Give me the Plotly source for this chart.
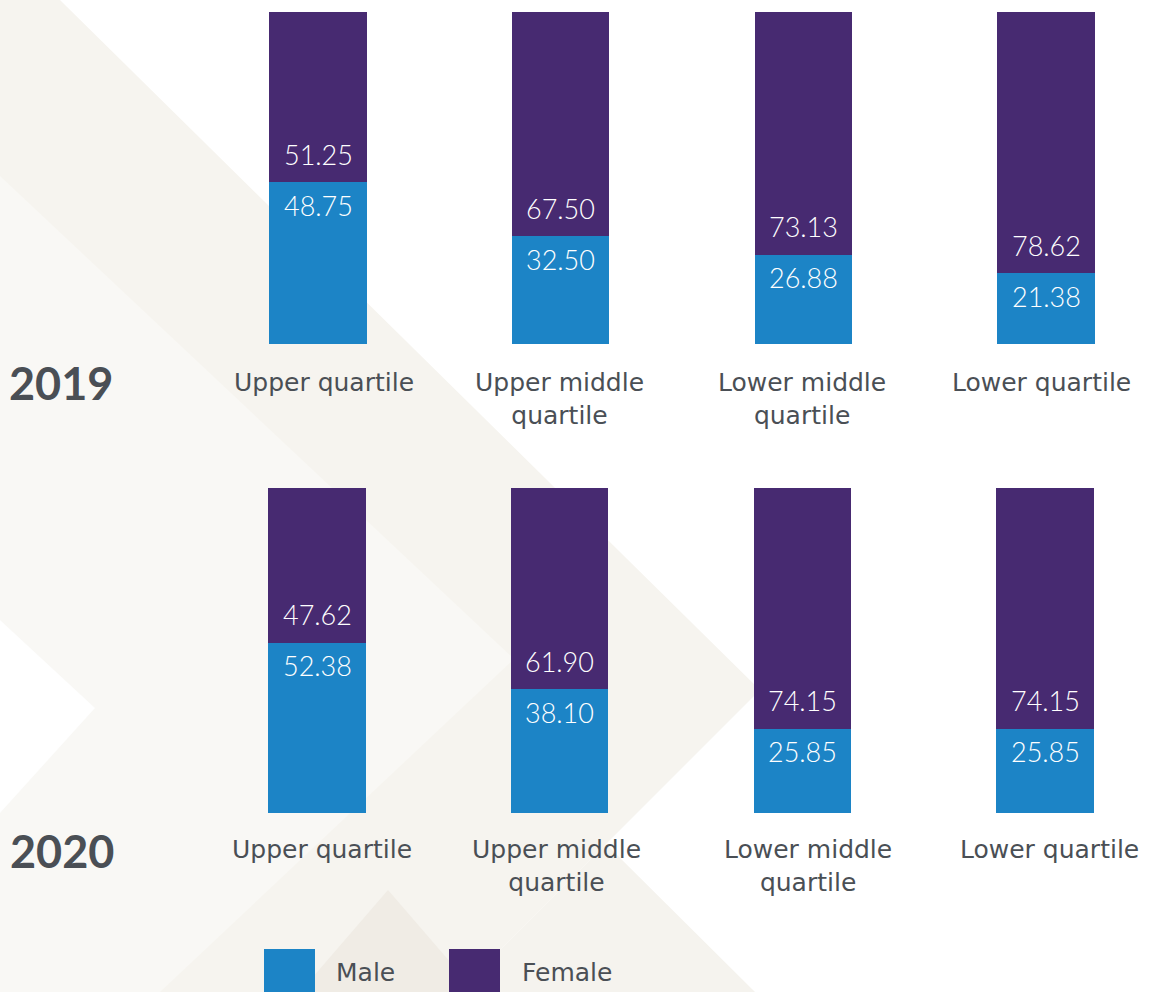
import plotly.graph_objects as go

W, H = 1149, 992

categories = ["Upper quartile", "Upper middle<br>quartile", "Lower middle<br>quartile", "Lower quartile"]
years = ["2019", "2020"]
male_2019 = [48.75, 32.50, 26.88, 21.38]
female_2019 = [51.25, 67.50, 73.13, 78.62]
male_2020 = [52.38, 38.10, 25.85, 25.85]
female_2020 = [47.62, 61.90, 74.15, 74.15]

BLUE = "#1c84c6"
PURPLE = "#472a71"
GREY = "#4a4f55"
NUM_FONT = "Lato, 'Open Sans', sans-serif"
TXT_FONT = "'DejaVu Sans', sans-serif"


def px_path(pts):
    return "M " + " L ".join(f"{x / W:.5f},{1 - y / H:.5f}" for x, y in pts) + " Z"


fig = go.Figure()
xs = list(range(len(categories)))
rows = [("x", "y", male_2019, female_2019), ("x2", "y2", male_2020, female_2020)]
for xa, ya, male, female in rows:
    fig.add_trace(go.Bar(x=xs, y=male, name="Male", marker=dict(color=BLUE, line=dict(width=0)),
                         width=0.40, xaxis=xa, yaxis=ya, showlegend=False, hoverinfo="skip"))
    fig.add_trace(go.Bar(x=xs, y=female, name="Female", marker=dict(color=PURPLE, line=dict(width=0)),
                         width=0.40, xaxis=xa, yaxis=ya, showlegend=False, hoverinfo="skip"))

annotations = []
label_shift = [[6, -1, -1, -5], [5, -3, 6, 4]]
label_yshift = [-22, -20]
for r, (xa, ya, male, female) in enumerate(rows):
    for i, cat in enumerate(categories):
        annotations.append(dict(x=i, y=male[i], xref=xa, yref=ya, text=f"{female[i]:.2f}",
                                showarrow=False, yanchor="middle", yshift=28,
                                font=dict(family=NUM_FONT, size=27, color="white", weight=300)))
        annotations.append(dict(x=i, y=male[i], xref=xa, yref=ya, text=f"{male[i]:.2f}",
                                showarrow=False, yanchor="middle", yshift=-23,
                                font=dict(family=NUM_FONT, size=27, color="white", weight=300)))
        annotations.append(dict(x=i, y=0, xref=xa, yref=ya, text=cat, showarrow=False,
                                yanchor="top", yshift=label_yshift[r], xshift=label_shift[r][i],
                                font=dict(family=TXT_FONT, size=25, color=GREY)))

year_pos = [(61, 383), (62, 851)]
for yr, (x, y) in zip(years, year_pos):
    annotations.append(dict(x=x / W, y=1 - y / H, xref="paper", yref="paper", text=f"<b>{yr}</b>",
                            showarrow=False, xanchor="center", yanchor="middle",
                            font=dict(family=NUM_FONT, size=45, color=GREY)))

# legend
legend_items = [("Male", BLUE, 264, 334), ("Female", PURPLE, 449, 520)]
shapes = []
# background chevrons
shapes.append(dict(type="path", path=px_path([(0, 0), (60, 0), (760, 690), (458, 992), (0, 992)]),
                   xref="paper", yref="paper", fillcolor="#f6f4ef", line=dict(width=0), layer="below"))
shapes.append(dict(type="path", path=px_path([(0, 176), (514, 659), (160, 992), (0, 992)]),
                   xref="paper", yref="paper", fillcolor="#f9f8f5", line=dict(width=0), layer="below"))
shapes.append(dict(type="path", path=px_path([(458, 992), (606, 844), (755, 992)]),
                   xref="paper", yref="paper", fillcolor="#f5f3ee", line=dict(width=0), layer="below"))
shapes.append(dict(type="path", path=px_path([(300, 992), (388, 890), (476, 992)]),
                   xref="paper", yref="paper", fillcolor="#f0ece5", line=dict(width=0), layer="below"))
shapes.append(dict(type="path", path=px_path([(0, 620), (95, 708), (0, 813)]),
                   xref="paper", yref="paper", fillcolor="#ffffff", line=dict(width=0), layer="below"))

for name, col, sx, tx in legend_items:
    shapes.append(dict(type="rect", xref="paper", yref="paper", x0=sx / W, x1=(sx + 51) / W,
                       y0=1 - 1000 / H, y1=1 - 949 / H, fillcolor=col, line=dict(width=0), layer="above"))
    annotations.append(dict(x=tx / W, y=1 - 972 / H, xref="paper", yref="paper", text=name,
                            showarrow=False, xanchor="left", yanchor="middle",
                            font=dict(family=TXT_FONT, size=25, color=GREY)))

xr = [(0 - 318) / 242.67, (W - 318) / 242.67]
axis_common = dict(showgrid=False, zeroline=False, showticklabels=False, showline=False, ticks="")
fig.update_layout(
    width=W, height=H, margin=dict(l=0, r=0, t=0, b=0),
    paper_bgcolor="white", plot_bgcolor="rgba(0,0,0,0)",
    barmode="stack", bargap=0,
    xaxis=dict(domain=[0, 1], range=xr, anchor="y", **axis_common),
    yaxis=dict(domain=[1 - 344 / H, 1 - 12 / H], range=[0, 100], anchor="x", **axis_common),
    xaxis2=dict(domain=[0, 1], range=[(0 - 317) / 242.67, (W - 317) / 242.67], anchor="y2", **axis_common),
    yaxis2=dict(domain=[1 - 813 / H, 1 - 488 / H], range=[0, 100], anchor="x2", **axis_common),
    annotations=annotations, shapes=shapes, showlegend=False,
)

fig.write_html("out.html")
